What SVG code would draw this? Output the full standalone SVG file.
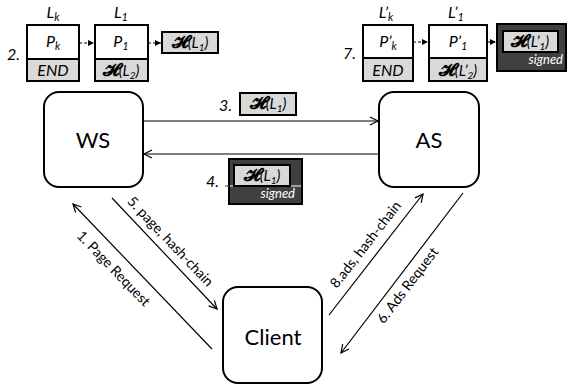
<svg xmlns="http://www.w3.org/2000/svg" width="568" height="389" viewBox="0 0 568 389">
<style>
text{font-family:Lato,"Open Sans","DejaVu Sans",sans-serif;fill:#000}
.it{font-style:italic;font-size:16px}
.h{font-style:italic;font-size:15px;text-anchor:middle}
.H{font-style:normal;font-weight:bold;font-size:18px}
.c{text-anchor:middle}
.node{fill:#fff;stroke:#000;stroke-width:2}
.cell{fill:#fff;stroke:#000;stroke-width:2}
.gray{fill:#d9d9d9;stroke:#000;stroke-width:2}
.dark{fill:#404040;stroke:#000;stroke-width:2}
.sg{fill:#fff;font-style:italic;font-size:13px;text-anchor:end}
.lbl{font-size:14px;text-anchor:middle;dominant-baseline:central}
.conn{stroke:#000;stroke-width:1.2;fill:none}
.dash{stroke:#000;stroke-width:1.2;stroke-dasharray:3,2;fill:none}
.big{font-size:22px;text-anchor:middle}
</style>
<defs>
<marker id="open" markerUnits="userSpaceOnUse" markerWidth="12" markerHeight="12" refX="9" refY="5" orient="auto">
<path d="M1,1 L9,5 L1,9" fill="none" stroke="#000" stroke-width="1.2"/>
</marker>
<marker id="fill" markerUnits="userSpaceOnUse" markerWidth="8" markerHeight="8" refX="6" refY="3" orient="auto">
<path d="M0,0 L6,3 L0,6 Z" fill="#000"/>
</marker>
</defs>

<g id="chain-ws">
<text class="it c" x="53" y="18">L<tspan font-size="11" dy="3">k</tspan></text>
<text class="it c" x="121" y="18">L<tspan font-size="11" dy="3">1</tspan></text>
<text class="it" x="7" y="60">2.</text>
<rect class="cell" x="27" y="25" width="52" height="34"/>
<rect class="gray" x="27" y="59" width="52" height="22"/>
<text class="it c" x="53" y="47">P<tspan font-size="11" dy="3">k</tspan></text>
<text class="it c" x="53" y="76" font-size="15">END</text>
<rect class="cell" x="95" y="25" width="53" height="34"/>
<rect class="gray" x="95" y="59" width="53" height="22"/>
<text class="it c" x="121" y="47">P<tspan font-size="11" dy="3">1</tspan></text>
<text class="h" x="121" y="76"><tspan class="H">𝓗</tspan>(L<tspan font-size="10" dy="3">2</tspan><tspan dy="-3">)</tspan></text>
<rect class="gray" x="162" y="32" width="56" height="21"/>
<text class="h" x="190" y="48"><tspan class="H">𝓗</tspan>(L<tspan font-size="10" dy="3">1</tspan><tspan dy="-3">)</tspan></text>
</g>

<g id="chain-as">
<text class="it c" x="386" y="18">L’<tspan font-size="11" dy="3">k</tspan></text>
<text class="it c" x="456" y="18">L’<tspan font-size="11" dy="3">1</tspan></text>
<text class="it" x="343" y="59">7.</text>
<rect class="cell" x="363" y="25" width="50" height="33"/>
<rect class="gray" x="363" y="58" width="50" height="23"/>
<text class="it c" x="388" y="47">P’<tspan font-size="11" dy="3">k</tspan></text>
<text class="it c" x="388" y="76" font-size="15">END</text>
<rect class="cell" x="429" y="25" width="58" height="33"/>
<rect class="gray" x="429" y="58" width="58" height="23"/>
<text class="it c" x="458" y="47">P’<tspan font-size="11" dy="3">1</tspan></text>
<text class="h" x="458" y="76"><tspan class="H">𝓗</tspan>(L’<tspan font-size="10" dy="3">2</tspan><tspan dy="-3">)</tspan></text>
<rect class="dark" x="497" y="24" width="69" height="47"/>
<rect class="gray" x="503" y="31" width="55" height="21"/>
<text class="h" x="530" y="47"><tspan class="H">𝓗</tspan>(L’<tspan font-size="10" dy="3">1</tspan><tspan dy="-3">)</tspan></text>
<text class="sg" x="563" y="64">signed</text>
</g>

<g id="WS">
<rect class="node" x="44" y="92" width="99" height="95" rx="15"/>
<text class="big" x="93" y="148">WS</text>
</g>
<g id="AS">
<rect class="node" x="379" y="92" width="100" height="95" rx="15"/>
<text class="big" x="429" y="148">AS</text>
</g>
<g id="Client">
<rect class="node" x="223" y="287" width="99" height="96" rx="15"/>
<text class="big" x="273" y="345">Client</text>
</g>

<g id="msg3">
<text class="it" x="219" y="111">3.</text>
<rect class="gray" x="240" y="93" width="56" height="22"/>
<text class="h" x="268" y="109"><tspan class="H">𝓗</tspan>(L<tspan font-size="10" dy="3">1</tspan><tspan dy="-3">)</tspan></text>
</g>
<g id="msg4">
<text class="it" x="206" y="187">4.</text>
<rect class="dark" x="229" y="159" width="73" height="45"/>
<line x1="225" y1="186" x2="229" y2="186" stroke="#404040" stroke-width="1"/>
<line x1="230" y1="186" x2="301" y2="186" stroke="#fff" stroke-width="1"/>
<rect class="gray" x="234" y="165" width="56" height="21"/>
<text class="h" x="262" y="181"><tspan class="H">𝓗</tspan>(L<tspan font-size="10" dy="3">1</tspan><tspan dy="-3">)</tspan></text>
<text class="sg" x="295" y="198">signed</text>
</g>

<g id="connectors">
<line class="dash" x1="79" y1="43" x2="94" y2="43" marker-end="url(#fill)"/>
<line class="dash" x1="148" y1="43" x2="161" y2="43" marker-end="url(#fill)"/>
<line class="dash" x1="413" y1="42" x2="428" y2="42" marker-end="url(#fill)"/>
<line class="dash" x1="487" y1="42" x2="496" y2="42" marker-end="url(#fill)"/>
<line class="conn" x1="143" y1="121" x2="378" y2="121" marker-end="url(#open)"/>
<line class="conn" x1="379" y1="154" x2="144" y2="154" marker-end="url(#open)"/>
<line class="conn" x1="212" y1="349" x2="73" y2="204" marker-end="url(#open)"/>
<line class="conn" x1="112" y1="198" x2="217" y2="309" marker-end="url(#open)"/>
<line class="conn" x1="329" y1="315" x2="423" y2="194" marker-end="url(#open)"/>
<line class="conn" x1="463" y1="193" x2="341" y2="353" marker-end="url(#open)"/>
<text class="lbl" transform="translate(114,268) rotate(46)">1. Page Request</text>
<text class="lbl" transform="translate(171,241) rotate(46.6)">5. page, hash-chain</text>
<text class="lbl" transform="translate(365,244) rotate(-52)">8.ads, hash-chain</text>
<text class="lbl" transform="translate(407,285) rotate(-52.7)">6. Ads Request</text>
</g>
</svg>
